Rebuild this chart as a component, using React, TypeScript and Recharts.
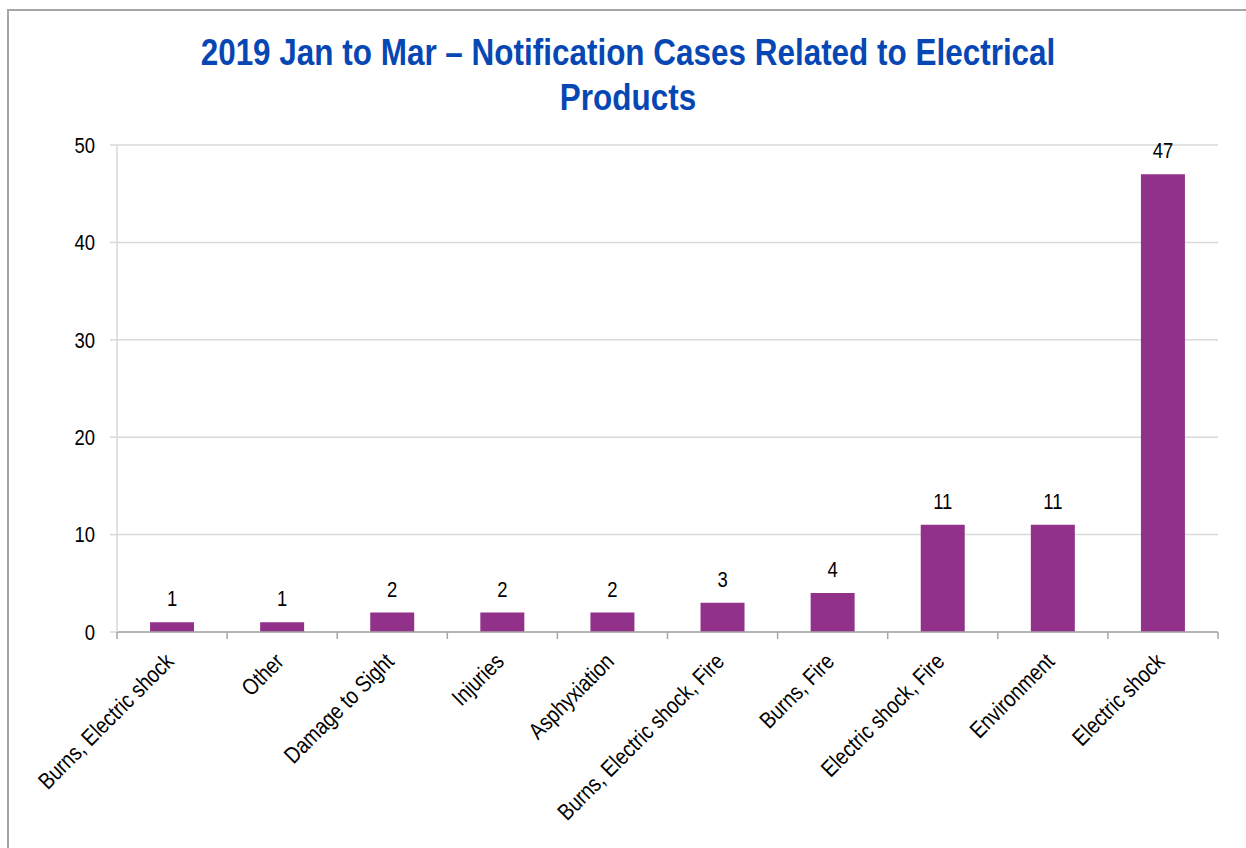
import { BarChart, Bar, XAxis, YAxis, CartesianGrid, LabelList } from 'recharts'

const categories = [
  'Burns, Electric shock',
  'Other',
  'Damage to Sight',
  'Injuries',
  'Asphyxiation',
  'Burns, Electric shock, Fire',
  'Burns, Fire',
  'Electric shock, Fire',
  'Environment',
  'Electric shock',
]
const cases = [1, 1, 2, 2, 2, 3, 4, 11, 11, 47]
const yTicks = [0, 10, 20, 30, 40, 50]

const data = categories.map((name, i) => ({ name, cases: cases[i] }))

// no Arial Narrow in the sandbox, so squeeze Liberation Sans horizontally
const FONT = "'Liberation Sans', Arial, sans-serif"
const NARROW = 0.84

const CategoryTick = (props: any) => {
  const { x, y, payload, index } = props
  const half = payload.offset ?? 0
  const ax = x + 3
  const ay = y + 23
  return (
    <g>
      <line x1={x - half} y1={y - 8} x2={x - half} y2={y - 1} stroke="#a6a6a6" strokeWidth={1.5} />
      {index === categories.length - 1 && (
        <line x1={x + half} y1={y - 8} x2={x + half} y2={y - 1} stroke="#a6a6a6" strokeWidth={1.5} />
      )}
      <g transform={`translate(${ax}, ${ay}) rotate(-45) scale(${NARROW}, 1)`}>
        <text x={0} y={0} textAnchor="end" fontSize={23} fontFamily={FONT} fill="#000">
          {payload.value}
        </text>
      </g>
    </g>
  )
}

const ValueTick = (props: any) => {
  const { x, y, payload } = props
  return (
    <g transform={`translate(${x}, ${y}) scale(${NARROW}, 1)`}>
      <text x={0} y={0} dy="0.355em" textAnchor="end" fontSize={22} fontFamily={FONT} fill="#000">
        {payload.value}
      </text>
    </g>
  )
}

const BarValue = (props: any) => {
  const { x, y, width, value } = props
  const cx = Number(x) + Number(width) / 2
  const by = Number(y) - 16
  return (
    <g transform={`translate(${cx}, ${by}) scale(${NARROW}, 1)`}>
      <text x={0} y={0} textAnchor="middle" fontSize={22} fontFamily={FONT} fill="#000">
        {value}
      </text>
    </g>
  )
}

export default function App() {
  return (
    <div
      style={{
        position: 'absolute',
        left: 0,
        top: 0,
        width: 1246,
        height: 848,
        overflow: 'hidden',
        background: '#fff',
      }}
    >
      <div
        style={{
          position: 'absolute',
          left: 7,
          top: 9,
          width: 1300,
          height: 900,
          border: '2px solid #a6a6a6',
        }}
      />
      <div
        style={{
          position: 'absolute',
          left: 8,
          top: 30,
          width: 1240,
          textAlign: 'center',
          fontFamily: FONT,
          fontWeight: 'bold',
          fontSize: 37,
          lineHeight: '45px',
          color: '#0747b4',
          transform: 'scaleX(0.85)',
        }}
      >
        2019 Jan to Mar – Notification Cases Related to Electrical
        <br />
        Products
      </div>
      <div style={{ position: 'absolute', left: 0, top: 0 }}>
        <BarChart
          width={1246}
          height={848}
          data={data}
          margin={{ top: 145, right: 28, left: 0, bottom: 0 }}
          barCategoryGap="30%"
        >
          <CartesianGrid vertical={false} stroke="#d9d9d9" strokeWidth={1.5} />
          <XAxis
            dataKey="name"
            interval={0}
            height={216}
            tickLine={false}
            axisLine={{ stroke: '#a6a6a6', strokeWidth: 1.5 }}
            tick={<CategoryTick />}
          />
          <YAxis
            width={117}
            domain={[0, 50]}
            ticks={yTicks}
            interval={0}
            tickSize={7}
            tickMargin={15}
            tickLine={{ stroke: '#d9d9d9', strokeWidth: 1.5 }}
            axisLine={{ stroke: '#d9d9d9', strokeWidth: 1.5 }}
            tick={<ValueTick />}
          />
          <Bar dataKey="cases" fill="#913189" isAnimationActive={false}>
            <LabelList dataKey="cases" content={<BarValue />} />
          </Bar>
        </BarChart>
      </div>
    </div>
  )
}
